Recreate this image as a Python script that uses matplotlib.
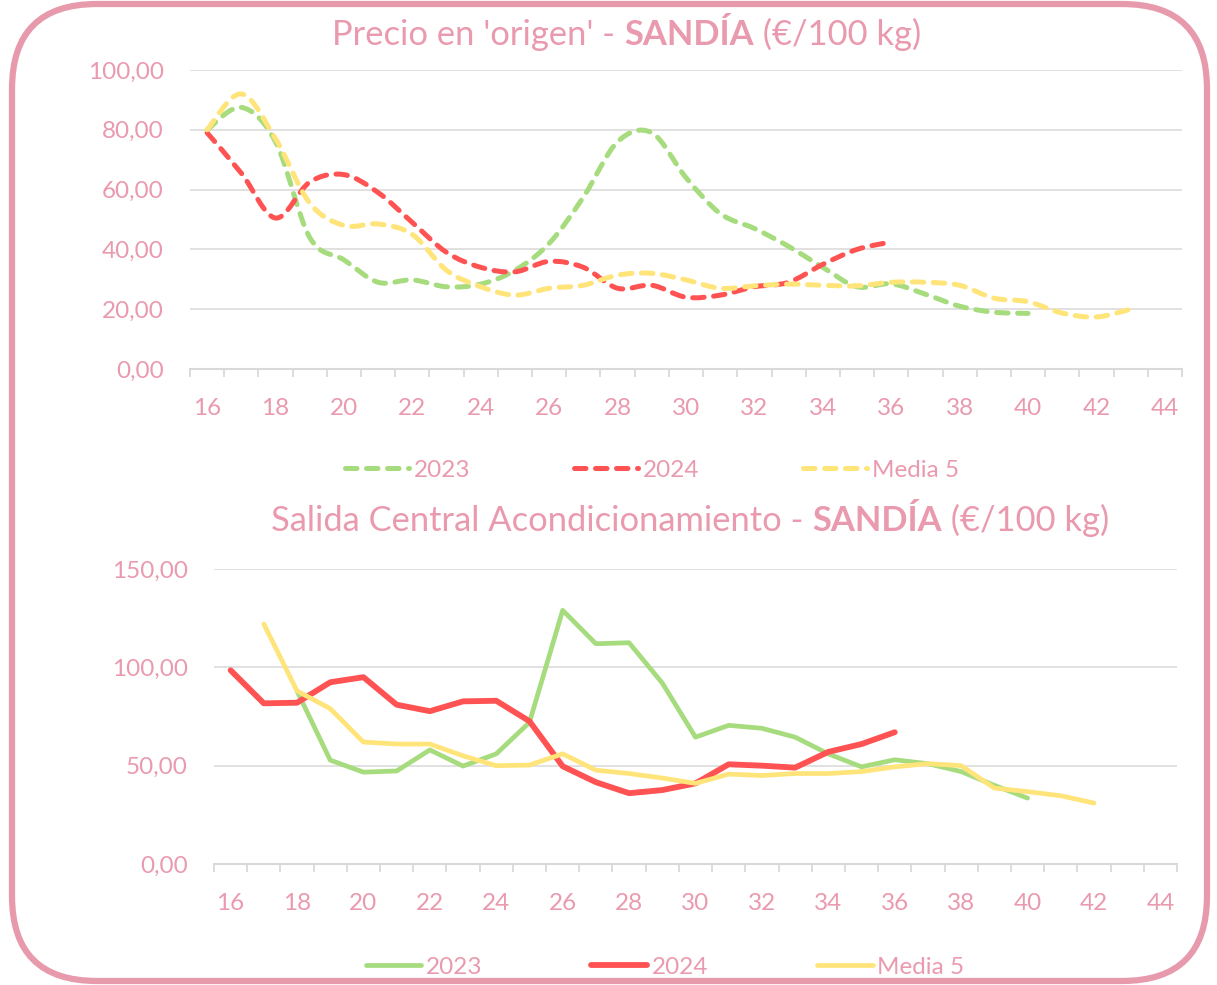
import numpy as np
import matplotlib
matplotlib.use('Agg')
import matplotlib.pyplot as plt
from matplotlib.path import Path
from matplotlib.patches import PathPatch, FancyBboxPatch
from matplotlib.lines import Line2D
from matplotlib.ticker import FuncFormatter, MultipleLocator

plt.rcParams['font.family'] = ['Lato', 'DejaVu Sans']

# --- data (semanas / €/100 kg) ---
labels = ['2023', '2024', 'Media 5']

orig_wk_2023 = list(range(16, 41))
orig_2023 = [80, 87.5, 76, 44, 36.5, 29, 29.8, 27.5, 28.4, 33, 42, 57.5, 76, 79, 64,
             52, 47, 41, 34, 27.5, 28.5, 25, 21, 19, 18.6]
orig_wk_2024 = list(range(16, 37))
orig_2024 = [79, 65.5, 50.5, 62.5, 65, 59, 49, 39, 34, 32.5, 36, 34, 27, 28, 24,
             24.7, 27.5, 29, 35, 40, 42.5]
orig_wk_media = list(range(16, 44))
orig_media = [80, 92, 77, 55.5, 48, 48.5, 45, 33, 27.5, 24.7, 27, 28, 31.4, 32, 29.8,
              27, 27.8, 28.4, 28, 27.8, 29, 29, 28, 23.7, 22.5, 18.7, 17.4, 20]

sal_wk_2023 = list(range(18, 41))
sal_2023 = [88, 52.8, 46.7, 47.3, 58, 49.8, 56, 72, 129, 112, 112.5, 92, 64.5, 70.5,
            69, 64.5, 56, 49.4, 53, 51, 47, 40, 33.5]
sal_wk_2024 = list(range(16, 37))
sal_2024 = [98.5, 81.7, 82, 92.4, 95, 81, 77.7, 82.7, 83, 72.6, 49.7, 41.6, 36, 37.6,
            41, 50.7, 50, 49, 57, 61, 67]
sal_wk_media = list(range(17, 43))
sal_media = [122, 88, 79, 62, 61, 61, 55, 50, 50.3, 56, 47.7, 46, 43.7, 41, 45.7, 45,
             46, 46, 47, 49.4, 51, 50, 38.6, 36.8, 34.7, 31]

green = '#A6DB7E'
red = '#FF5252'
yellow = '#FFE47A'
pink = '#EA9AAE'
grid_c = '#D9D9D9'
dash = (0, (2.3, 1.9))


def smooth_path(xs, ys):
    # bezier a la Excel (catmull-rom)
    pts = list(zip(xs, ys))
    n = len(pts)
    verts = [pts[0]]
    codes = [Path.MOVETO]
    for i in range(n - 1):
        p0 = pts[i - 1] if i > 0 else pts[i]
        p1 = pts[i]
        p2 = pts[i + 1]
        p3 = pts[i + 2] if i + 2 < n else pts[i + 1]
        c1 = (p1[0] + (p2[0] - p0[0]) / 6, p1[1] + (p2[1] - p0[1]) / 6)
        c2 = (p2[0] - (p3[0] - p1[0]) / 6, p2[1] - (p3[1] - p1[1]) / 6)
        verts += [c1, c2, p2]
        codes += [Path.CURVE4] * 3
    return Path(verts, codes)


def style_axes(ax, ymax, ystep):
    ax.set_xlim(15.5, 44.5)
    ax.set_ylim(0, ymax)
    ax.set_yticks(np.arange(0, ymax + 1, ystep))
    ax.yaxis.set_major_formatter(FuncFormatter(lambda v, p: f'{v:.2f}'.replace('.', ',')))
    ax.set_xticks(range(16, 45, 2))
    ax.xaxis.set_minor_locator(MultipleLocator(1, offset=0.5))
    ax.grid(axis='y', color=grid_c, lw=1.1)
    ax.set_axisbelow(True)
    for s in ['top', 'right', 'left']:
        ax.spines[s].set_visible(False)
    ax.spines['bottom'].set_color(grid_c)
    ax.spines['bottom'].set_linewidth(1.5)
    ax.tick_params(axis='x', which='major', length=0, pad=21, labelsize=17.5, labelcolor=pink)
    ax.tick_params(axis='x', which='minor', length=6, width=1.3, color=grid_c, direction='out')
    ax.tick_params(axis='y', length=0, pad=19, labelsize=17.5, labelcolor=pink)


def title(fig, x, y, pre, post, fs=24.8):
    t1 = fig.text(x, y, pre, color=pink, fontsize=fs, va='baseline', ha='left')
    a2 = plt.annotate('SANDÍA', xy=(1, 0), xycoords=t1, color=pink, fontsize=fs,
                      fontweight='bold', va='bottom', ha='left')
    a3 = plt.annotate(post, xy=(1, 0), xycoords=a2, color=pink, fontsize=fs,
                      va='bottom', ha='left')
    return t1, a2, a3


W, H = 1217, 985
fig = plt.figure(figsize=(W / 100, H / 100), dpi=100)

ax1 = fig.add_axes([190 / W, 1 - 369 / H, 992 / W, 299 / H])
style_axes(ax1, 100, 20)
for wk, vals, c in [(orig_wk_2023, orig_2023, green), (orig_wk_2024, orig_2024, red),
                    (orig_wk_media, orig_media, yellow)]:
    ax1.add_patch(PathPatch(smooth_path(wk, vals), fill=False, edgecolor=c, lw=3.6,
                            linestyle=dash, capstyle='round', joinstyle='round'))

ax2 = fig.add_axes([214 / W, 1 - 864 / H, 963 / W, 295 / H])
style_axes(ax2, 150, 50)
ax2.plot(sal_wk_2023, sal_2023, color=green, lw=3.4, solid_capstyle='round', solid_joinstyle='round')
ax2.plot(sal_wk_2024, sal_2024, color=red, lw=4.2, solid_capstyle='round', solid_joinstyle='round')
ax2.plot(sal_wk_media, sal_media, color=yellow, lw=3.4, solid_capstyle='round', solid_joinstyle='round')

title(fig, 332 / W, 1 - 45 / H, "Precio en 'origen' - ", ' (€/100 kg)')
title(fig, 271 / W, 1 - 531 / H, 'Salida Central Acondicionamiento - ', ' (€/100 kg)')

h_top = [Line2D([], [], color=c, lw=3.6, linestyle=dash, dash_capstyle='round')
         for c in (green, red, yellow)]
fig.legend(h_top, labels, loc='center', bbox_to_anchor=(652 / W, 1 - 470 / H), ncol=3,
           frameon=False, fontsize=17.5, labelcolor=pink, handlelength=2.6,
           handletextpad=0.2, columnspacing=4.3)
h_bot = [Line2D([], [], color=c, lw=lw, solid_capstyle='round')
         for c, lw in ((green, 3.4), (red, 4.2), (yellow, 3.4))]
fig.legend(h_bot, labels, loc='center', bbox_to_anchor=(665 / W, 1 - 967 / H), ncol=3,
           frameon=False, fontsize=17.5, labelcolor=pink, handlelength=2.3,
           handletextpad=0.17, columnspacing=4.5)

# marco redondeado
fig.patches.append(FancyBboxPatch((0.12, 0.04), 11.95, 9.77,
                                  boxstyle='round,pad=0,rounding_size=0.85',
                                  transform=fig.dpi_scale_trans, fill=False,
                                  edgecolor='#E89AAD', lw=4.5, figure=fig))

fig.savefig('out.png', dpi=100)
